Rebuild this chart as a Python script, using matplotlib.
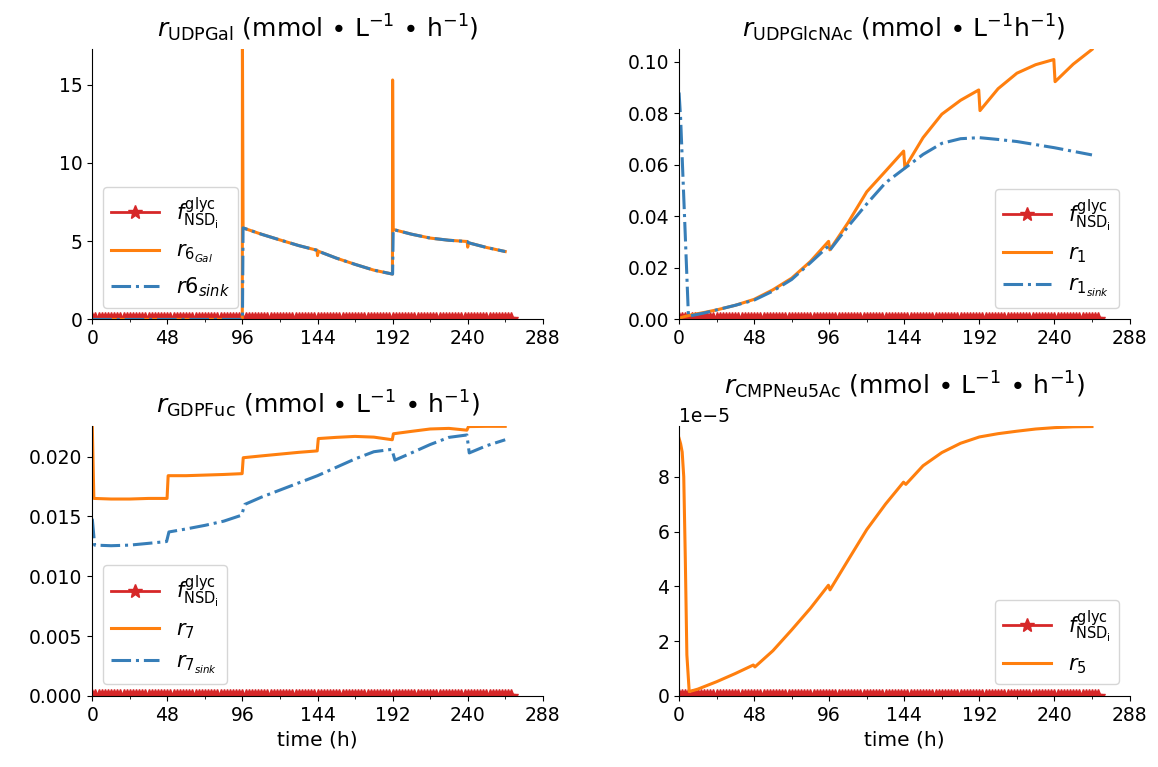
import numpy as np
import matplotlib
matplotlib.use('Agg')
import matplotlib.pyplot as plt
from matplotlib.ticker import MultipleLocator

plt.rcParams['font.family'] = 'DejaVu Sans'
plt.rcParams['mathtext.fontset'] = 'dejavusans'

# 颜色
RED = '#d62728'
ORANGE = '#ff7f0e'
BLUE = '#377eb8'

# f_glyc (all zero over the run)
t_f = list(range(0, 270, 2))
f_glyc = [0.0] * len(t_f)

# UDPGal
t_gal = [0, 95.9, 96, 96.4, 108, 120, 132, 143.7, 144, 144.5, 156, 168, 180,
         191.9, 192, 192.4, 204, 216, 228, 239.7, 240, 240.5, 252, 264]
r6_gal = [0, 0, 17.4, 5.85, 5.45, 5.08, 4.72, 4.42, 4.08, 4.36, 3.92, 3.52, 3.15,
          2.9, 15.3, 5.75, 5.45, 5.2, 5.06, 4.98, 4.62, 4.9, 4.6, 4.34]
r6_sink = [0, 0, 0, 5.85, 5.45, 5.08, 4.72, 4.42, 4.36, 4.36, 3.92, 3.52, 3.15,
           2.9, 2.9, 5.75, 5.45, 5.2, 5.06, 4.98, 4.95, 4.9, 4.6, 4.34]

# UDPGlcNAc
t_glc = [0, 4, 8, 16, 24, 36, 48, 60, 72, 84, 95.6, 96.4, 108, 120, 132, 143.6,
         144.4, 156, 168, 180, 191.6, 192.4, 204, 216, 228, 239.6, 240.4, 252, 264]
r1 = [0.0005, 0.0012, 0.0018, 0.0027, 0.0037, 0.0055, 0.0078, 0.0115, 0.016,
      0.0225, 0.0303, 0.027, 0.0375, 0.0495, 0.0575, 0.0653, 0.0588, 0.0705,
      0.0796, 0.085, 0.089, 0.081, 0.0895, 0.0955, 0.0988, 0.1008, 0.0922,
      0.099, 0.1047]
t_glc_sink = [0, 1, 3.5, 6, 8, 16, 24, 36, 48, 60, 72, 84, 95.6, 96.6, 108, 120,
              132, 144, 156, 168, 180, 192, 204, 216, 228, 240, 252, 264]
r1_sink = [0.088, 0.078, 0.04, 0.0012, 0.0015, 0.0025, 0.0037, 0.0055, 0.0075,
           0.011, 0.0155, 0.022, 0.0285, 0.027, 0.036, 0.0448, 0.053, 0.0585,
           0.064, 0.0683, 0.0701, 0.0705, 0.0698, 0.069, 0.0678, 0.0666,
           0.0652, 0.0638]

# GDPFuc
t_fuc = [0, 1, 12, 24, 36, 47.8, 48.5, 60, 72, 84, 95.8, 96.5, 108, 120, 132,
         143.8, 144.5, 156, 168, 180, 191.8, 192.5, 204, 216, 228, 239.5, 240.5,
         252, 264]
r7 = [0.0225, 0.0165, 0.01645, 0.01645, 0.0165, 0.0165, 0.0184, 0.0184,
      0.01845, 0.0185, 0.01857, 0.0199, 0.02005, 0.0202, 0.02035, 0.02047,
      0.0215, 0.0216, 0.02168, 0.02162, 0.0214, 0.0219, 0.0221, 0.0223,
      0.02235, 0.0222, 0.0225, 0.02252, 0.02252]
t_fuc_sink = [0, 1.5, 12, 24, 36, 47.5, 49, 60, 72, 84, 95.5, 97.5, 108, 120,
              132, 144, 156, 168, 180, 191.5, 193.5, 204, 216, 228, 239.5, 241,
              252, 264]
r7_sink = [0.0148, 0.0126, 0.01255, 0.0126, 0.01275, 0.0129, 0.0137, 0.01395,
           0.01425, 0.0146, 0.0151, 0.016, 0.0166, 0.0172, 0.0178, 0.0184,
           0.0191, 0.0198, 0.0204, 0.0206, 0.0197, 0.0203, 0.021, 0.0216,
           0.0218, 0.0203, 0.0209, 0.0214]

# CMPNeu5Ac
t_neu = [0, 1, 2, 3, 4, 5, 6.5, 12, 24, 36, 47.5, 48.5, 60, 72, 84, 95.5, 96.5,
         108, 120, 132, 143.5, 145, 156, 168, 180, 192, 204, 216, 228, 240, 252,
         264]
r5 = [9.4e-5, 9.2e-5, 8.9e-5, 8.0e-5, 5.0e-5, 1.5e-5, 0.16e-5, 0.25e-5,
      0.52e-5, 0.82e-5, 1.13e-5, 1.06e-5, 1.65e-5, 2.41e-5, 3.2e-5, 4.04e-5,
      3.87e-5, 4.95e-5, 6.07e-5, 7.0e-5, 7.8e-5, 7.72e-5, 8.4e-5, 8.88e-5,
      9.22e-5, 9.45e-5, 9.57e-5, 9.66e-5, 9.74e-5, 9.79e-5, 9.82e-5, 9.83e-5]

F_LABEL = r'$f^{\mathrm{glyc}}_{\mathrm{NSD_i}}$'
UNIT = r' (mmol $\bullet$ L$^{-1}$ $\bullet$ h$^{-1}$)'


def style_axis(ax, title, xlabel=False):
    ax.spines['top'].set_visible(False)
    ax.spines['right'].set_visible(False)
    ax.set_xlim(0, 288)
    ax.xaxis.set_major_locator(MultipleLocator(48))
    ax.xaxis.set_minor_locator(MultipleLocator(24))
    ax.tick_params(labelsize=13.5)
    ax.set_title(title, fontsize=18, pad=9)
    if xlabel:
        ax.set_xlabel('time (h)', fontsize=14.5)


def plot_f(ax):
    ax.plot(t_f, f_glyc, color=RED, lw=2, marker='*', ms=10, label=F_LABEL)


fig = plt.figure(figsize=(11.58, 7.67), dpi=100)
w, h = 0.389, 0.352
ax1 = fig.add_axes([0.0797, 0.5835, w, h])
ax2 = fig.add_axes([0.5864, 0.5835, w, h])
ax3 = fig.add_axes([0.0797, 0.0926, w, h])
ax4 = fig.add_axes([0.5864, 0.0926, w, h])

leg_kw = dict(fontsize=15, handlelength=2.3)

# 左上
plot_f(ax1)
ax1.plot(t_gal, r6_gal, color=ORANGE, lw=2.2, label=r'$r_{6_{Gal}}$')
ax1.plot(t_gal, r6_sink, color=BLUE, lw=2.2, ls='-.', label=r'$r6_{sink}$')
ax1.set_ylim(0, 17.25)
ax1.yaxis.set_major_locator(MultipleLocator(5))
style_axis(ax1, r'$r_{\mathrm{UDPGal}}$' + UNIT)
ax1.legend(loc='lower left', bbox_to_anchor=(0.0, 0.005), **leg_kw)

# 右上
plot_f(ax2)
ax2.plot(t_glc, r1, color=ORANGE, lw=2.2, label=r'$r_1$')
ax2.plot(t_glc_sink, r1_sink, color=BLUE, lw=2.2, ls='-.', label=r'$r_{1_{sink}}$')
ax2.set_ylim(0, 0.1047)
style_axis(ax2, r'$r_{\mathrm{UDPGlcNAc}}$ (mmol $\bullet$ L$^{-1}$h$^{-1}$)')
ax2.legend(loc='lower right', bbox_to_anchor=(1.0, 0.005), **leg_kw)

# 左下
plot_f(ax3)
ax3.plot(t_fuc, r7, color=ORANGE, lw=2.2, label=r'$r_7$')
ax3.plot(t_fuc_sink, r7_sink, color=BLUE, lw=2.2, ls='-.', label=r'$r_{7_{sink}}$')
ax3.set_ylim(0, 0.02255)
style_axis(ax3, r'$r_{\mathrm{GDPFuc}}$' + UNIT, xlabel=True)
ax3.legend(loc='lower left', bbox_to_anchor=(0.0, 0.005), **leg_kw)

# 右下
plot_f(ax4)
ax4.plot(t_neu, r5, color=ORANGE, lw=2.2, label=r'$r_5$')
ax4.set_ylim(0, 9.85e-5)
style_axis(ax4, r'$r_{\mathrm{CMPNeu5Ac}}$' + UNIT, xlabel=True)
ax4.yaxis.get_offset_text().set_fontsize(13.5)
ax4.legend(loc='lower right', bbox_to_anchor=(1.0, 0.005), **leg_kw)

fig.savefig('out.png', dpi=100)
